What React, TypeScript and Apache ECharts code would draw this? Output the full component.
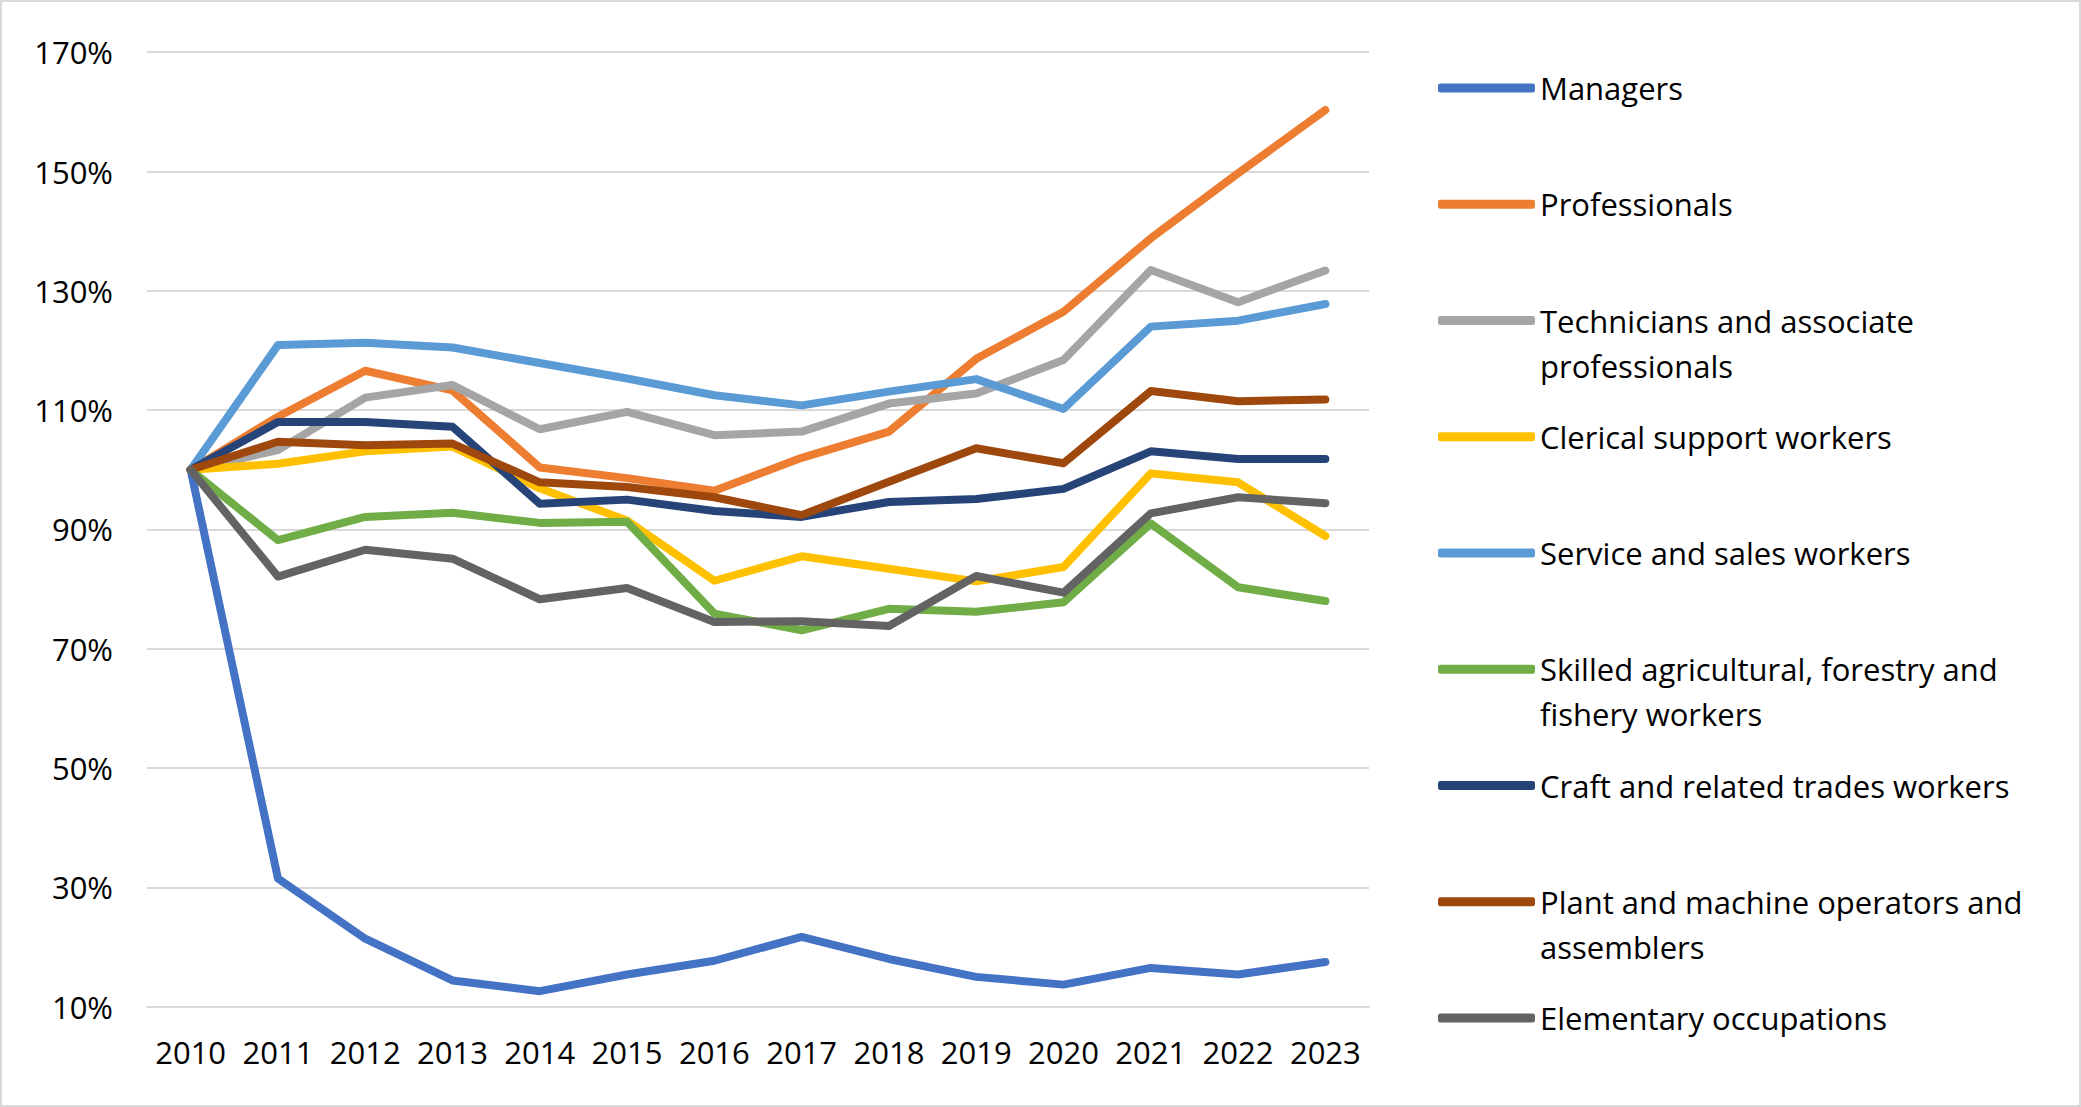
import React, { useEffect, useRef } from "react";
import * as echarts from "echarts";

const years = ["2010", "2011", "2012", "2013", "2014", "2015", "2016", "2017", "2018", "2019", "2020", "2021", "2022", "2023"];

const managers = [100, 31.5, 21.4, 14.4, 12.6, 15.4, 17.7, 21.7, 18.0, 15.0, 13.7, 16.5, 15.4, 17.5];
const professionals = [100, 108.9, 116.6, 113.3, 100.4, 98.6, 96.5, 102.0, 106.4, 118.6, 126.5, 138.8, 149.7, 160.3];
const technicians = [100, 103.3, 112.1, 114.2, 106.8, 109.7, 105.8, 106.4, 111.1, 112.8, 118.4, 133.5, 128.1, 133.4];
const clerical = [100, 101.0, 103.1, 103.9, 96.9, 91.5, 81.4, 85.5, 83.4, 81.3, 83.7, 99.4, 97.9, 88.9];
const service = [100, 120.9, 121.3, 120.5, 117.9, 115.3, 112.5, 110.8, 113.1, 115.2, 110.2, 124.0, 125.0, 127.8];
const skilled = [100, 88.2, 92.1, 92.8, 91.1, 91.3, 75.9, 73.1, 76.7, 76.2, 77.8, 91.0, 80.3, 78.0];
const craft = [100, 108.0, 108.0, 107.2, 94.3, 95.0, 93.1, 92.1, 94.6, 95.1, 96.8, 103.1, 101.8, 101.8];
const plant = [100, 104.7, 104.1, 104.4, 97.9, 97.1, 95.4, 92.4, 98.0, 103.6, 101.1, 113.2, 111.5, 111.8];
const elementary = [100, 82.1, 86.6, 85.1, 78.3, 80.2, 74.5, 74.6, 73.8, 82.2, 79.4, 92.7, 95.4, 94.4];

const seriesNames = [
  "Managers",
  "Professionals",
  "Technicians and associate professionals",
  "Clerical support workers",
  "Service and sales workers",
  "Skilled agricultural, forestry and fishery workers",
  "Craft and related trades workers",
  "Plant and machine operators and assemblers",
  "Elementary occupations",
];

const legendLines = [
  ["Managers"],
  ["Professionals"],
  ["Technicians and associate", "professionals"],
  ["Clerical support workers"],
  ["Service and sales workers"],
  ["Skilled agricultural, forestry and", "fishery workers"],
  ["Craft and related trades workers"],
  ["Plant and machine operators and", "assemblers"],
  ["Elementary occupations"],
];

const seriesValues = [managers, professionals, technicians, clerical, service, skilled, craft, plant, elementary];

const colors = ["#4472C4", "#ED7D31", "#A5A5A5", "#FFC000", "#5B9BD5", "#70AD47", "#264478", "#9E480E", "#636363"];

const yTicks = { min: 10, max: 170, interval: 20 };

const FONT = "'Open Sans', sans-serif";

export default function App() {
  const ref = useRef<HTMLDivElement>(null);

  useEffect(() => {
    document.body.style.margin = "0";
    const chart = echarts.init(ref.current as HTMLDivElement, undefined, { renderer: "svg" });

    const lineH = 45;
    const legendFirst = 88;
    const legendStep = 116.25;

    const legends = seriesNames.map((name, i) => {
      const lines = legendLines[i];
      const multi = lines.length > 1;
      const c = legendFirst + i * legendStep;
      return {
        data: [{ name }],
        orient: "vertical",
        left: 1438,
        top: multi ? c - lineH * 1.5 : c - lineH / 2,
        padding: 0,
        itemWidth: 97,
        itemHeight: 9,
        icon: "roundRect",
        selectedMode: false,
        formatter: () => (multi ? "\n" + lines.join("\n") : lines[0]),
        textStyle: {
          fontFamily: FONT,
          fontSize: 31,
          color: "#000",
          lineHeight: lineH,
        },
      };
    });

    const option = {
      animation: false,
      backgroundColor: "#fff",
      graphic: [
        {
          type: "rect",
          shape: { x: 1, y: 1, width: 2079, height: 1105 },
          style: { fill: "none", stroke: "#d9d9d9", lineWidth: 2 },
          silent: true,
        },
      ],
      grid: { left: 147, right: 712, top: 52.2, bottom: 100.3, containLabel: false },
      legend: legends,
      xAxis: {
        type: "category",
        data: years,
        boundaryGap: true,
        axisLine: { show: true, lineStyle: { color: "#d9d9d9", width: 2 } },
        axisTick: { show: false },
        axisLabel: { interval: 0, fontFamily: FONT, fontSize: 31, color: "#000", margin: 30 },
      },
      yAxis: {
        type: "value",
        min: yTicks.min,
        max: yTicks.max,
        interval: yTicks.interval,
        axisLine: { show: false },
        axisTick: { show: false },
        splitLine: { lineStyle: { color: "#d9d9d9", width: 2 } },
        axisLabel: { fontFamily: FONT, fontSize: 31, color: "#000", margin: 34, formatter: "{value}%" },
      },
      series: seriesNames.map((name, i) => ({
        name,
        type: "line",
        data: seriesValues[i],
        color: colors[i],
        showSymbol: false,
        symbol: "none",
        lineStyle: { color: colors[i], width: 8, cap: "round", join: "round" },
      })),
    };

    chart.setOption(option as any);
    return () => chart.dispose();
  }, []);

  return (
    <div
      ref={ref}
      style={{ position: "absolute", left: 0, top: 0, width: 2081, height: 1107, background: "#fff" }}
    />
  );
}
